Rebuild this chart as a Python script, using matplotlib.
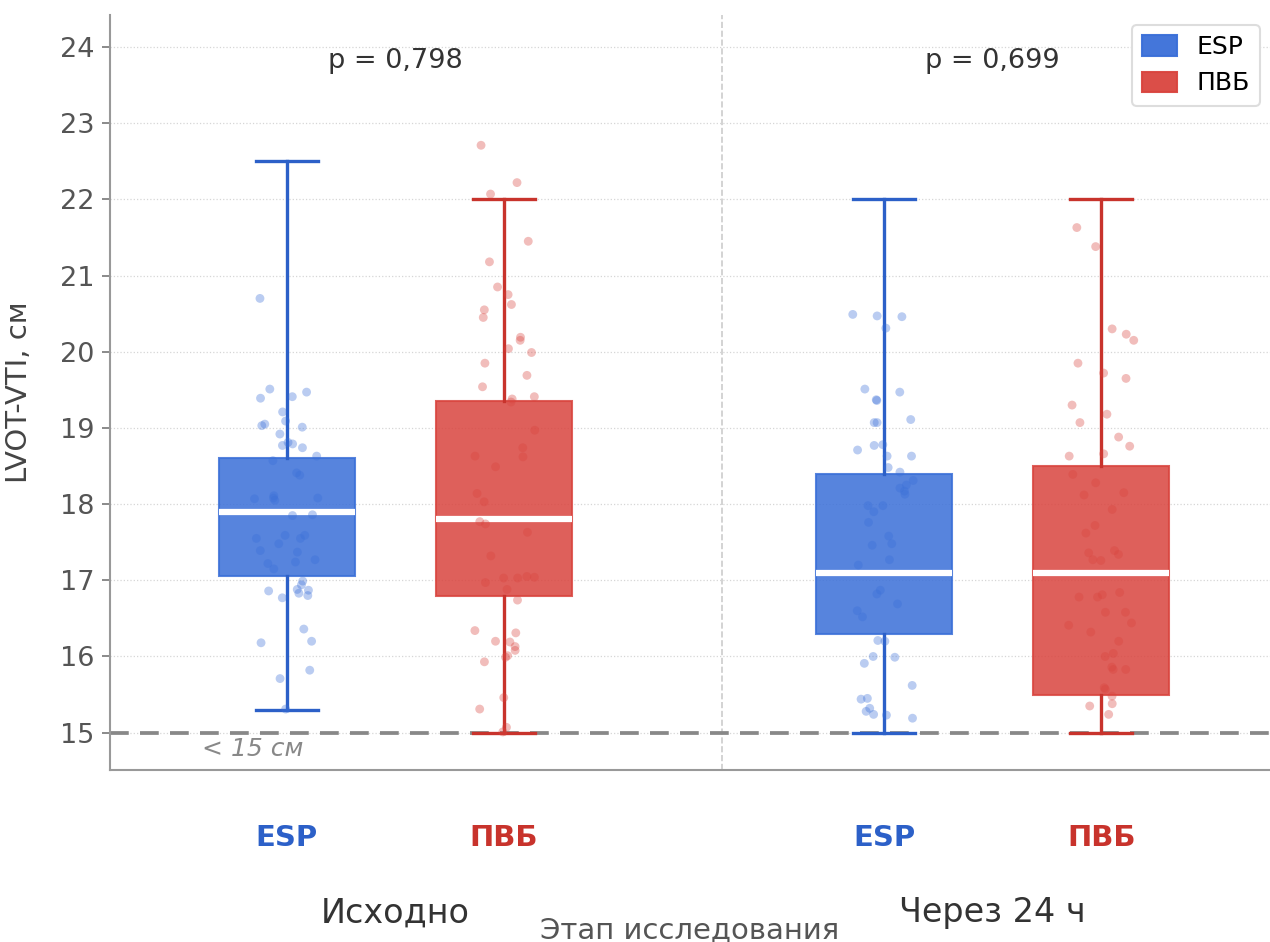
import numpy as np
import matplotlib
matplotlib.use('Agg')
import matplotlib.pyplot as plt
from matplotlib.patches import Patch

# данные
groups = ['Исходно', 'Через 24 ч']
methods = ['ESP', 'ПВБ']
p_values = ['p = 0,798', 'p = 0,699']

# статистика боксов: нижний ус, Q1, медиана, Q3, верхний ус
esp_base_stats = [15.3, 17.05, 17.9, 18.6, 22.5]
pvb_base_stats = [15.0, 16.8, 17.8, 19.35, 22.0]
esp_24h_stats = [15.0, 16.3, 17.1, 18.4, 22.0]
pvb_24h_stats = [15.0, 15.5, 17.1, 18.5, 22.0]

# индивидуальные значения
esp_base = [20.70, 19.51, 19.47, 19.41, 19.39, 19.21, 19.09, 19.05, 19.01, 19.03,
            18.92, 18.81, 18.77, 18.79, 18.74, 18.63, 18.57, 18.41, 18.38, 18.08,
            18.07, 18.08, 18.11, 18.05, 17.86, 17.85, 17.59, 17.59, 17.55, 17.55,
            17.48, 17.39, 17.37, 17.27, 17.22, 17.24, 17.15, 16.99, 16.94, 16.86,
            16.87, 16.88, 16.83, 16.80, 16.77, 16.36, 16.20, 16.18, 15.82, 15.71,
            15.31]
pvb_base = [22.71, 22.22, 22.07, 21.45, 21.18, 20.75, 20.85, 20.62, 20.55, 20.45,
            20.15, 20.19, 20.04, 19.99, 19.85, 19.69, 19.54, 19.41, 19.38, 19.34,
            18.97, 18.74, 18.62, 18.63, 18.49, 18.14, 18.03, 17.74, 17.63, 17.77,
            17.32, 17.03, 17.05, 17.04, 17.03, 16.97, 16.88, 16.74, 16.34, 16.31,
            16.20, 16.19, 16.08, 16.13, 15.99, 16.01, 15.93, 15.46, 15.31, 15.01,
            15.07]
esp_24h = [20.46, 20.47, 20.49, 20.31, 19.51, 19.47, 19.36, 19.37, 19.11, 19.07,
           19.07, 18.77, 18.78, 18.71, 18.63, 18.63, 18.48, 18.42, 18.31, 18.25,
           18.21, 18.17, 18.13, 17.98, 17.98, 17.90, 17.76, 17.58, 17.46, 17.48,
           17.27, 17.20, 16.87, 16.82, 16.69, 16.60, 16.52, 16.20, 16.21, 15.99,
           16.00, 15.91, 15.62, 15.45, 15.44, 15.32, 15.24, 15.28, 15.23, 15.19]
pvb_24h = [21.63, 21.38, 20.30, 20.23, 20.15, 19.85, 19.72, 19.65, 19.30, 19.18,
           19.07, 18.88, 18.76, 18.66, 18.63, 18.39, 18.28, 18.15, 18.12, 17.93,
           17.72, 17.62, 17.39, 17.36, 17.27, 17.34, 17.26, 16.84, 16.81, 16.78,
           16.78, 16.58, 16.58, 16.44, 16.41, 16.32, 16.20, 16.04, 16.00, 15.86,
           15.83, 15.83, 15.59, 15.57, 15.48, 15.35, 15.38, 15.24]

all_stats = [esp_base_stats, pvb_base_stats, esp_24h_stats, pvb_24h_stats]
all_points = [esp_base, pvb_base, esp_24h, pvb_24h]

blue = '#3A6FD8'
red = '#D9443E'
blue_dark = '#2C60C8'
red_dark = '#C8332C'
fill_colors = [blue, red, blue, red]
line_colors = [blue_dark, red_dark, blue_dark, red_dark]

group_centers = [0.0, 1.1]
positions = [-0.2, 0.2, 0.9, 1.3]

plt.rcParams['font.family'] = ['DejaVu Sans']
fig = plt.figure(figsize=(1270 / 150, 942 / 150), dpi=150)
ax = fig.add_axes([110 / 1270, 1 - 770 / 942, 1160 / 1270, 755 / 942])

# боксы
for st, pos, fc, lc in zip(all_stats, positions, fill_colors, line_colors):
    d = dict(whislo=st[0], q1=st[1], med=st[2], q3=st[3], whishi=st[4], fliers=[])
    ax.bxp([d], positions=[pos], widths=0.25, patch_artist=True, showfliers=False,
           capwidths=[0.115],
           boxprops=dict(facecolor=fc, edgecolor=fc, alpha=0.85, linewidth=1),
           medianprops=dict(color='white', linewidth=3),
           whiskerprops=dict(color=lc, linewidth=1.6),
           capprops=dict(color=lc, linewidth=1.6))

# точки с разбросом по x
rng = np.random.default_rng(3)
for pts, pos, fc in zip(all_points, positions, fill_colors):
    jx = pos + rng.uniform(-0.06, 0.06, len(pts))
    ax.scatter(jx, pts, s=18, color=fc, alpha=0.35, edgecolors='none', zorder=3)

# порог 15 см
ax.axhline(15, color='#888888', linestyle=(0, (5, 3)), linewidth=1.8, zorder=1)
ax.text(-0.263, 14.78, '< 15 см', color='#888888', fontsize=12, style='italic',
        ha='center', va='center')

# разделитель этапов
ax.axvline(0.602, color='#cccccc', linestyle='--', linewidth=0.8, zorder=0)

ax.set_xlim(-0.526, 1.611)
ax.set_ylim(14.51, 24.42)
ax.set_yticks(range(15, 25))
ax.yaxis.grid(True, linestyle=':', color='#d6d6d6', linewidth=0.6)
ax.set_axisbelow(True)

for s in ['top', 'right']:
    ax.spines[s].set_visible(False)
for s in ['left', 'bottom']:
    ax.spines[s].set_color('#999999')
    ax.spines[s].set_linewidth(1.0)

ax.tick_params(axis='y', colors='#555555', labelsize=13, length=4, color='#777777')
ax.set_xticks(positions)
ax.set_xticklabels(methods * 2, fontsize=14, fontweight='bold')
ax.tick_params(axis='x', length=0, pad=26)
for lbl, c in zip(ax.get_xticklabels(), line_colors):
    lbl.set_color(c)

for gx, name, pv in zip(group_centers, groups, p_values):
    ax.text(gx, -0.189, name, transform=ax.get_xaxis_transform(), ha='center',
            va='center', fontsize=16, color='#333333')
    ax.text(gx, 23.82, pv, ha='center', va='center', fontsize=13, color='#333333')

ax.set_ylabel('LVOT-VTI, см', fontsize=14, color='#444444')
ax.yaxis.set_label_coords(-0.066, 0.5)
ax.set_xlabel('Этап исследования', fontsize=14, color='#555555', va='center')
ax.xaxis.set_label_coords(0.5, -0.212)

handles = [Patch(facecolor=blue, edgecolor=blue, alpha=0.95, label='ESP'),
           Patch(facecolor=red, edgecolor=red, alpha=0.95, label='ПВБ')]
ax.legend(handles=handles, loc='upper right', fontsize=12, handlelength=1.4,
          handleheight=0.9, framealpha=1, edgecolor='#dddddd', borderaxespad=0.4)

fig.savefig('out.png', dpi=150)
